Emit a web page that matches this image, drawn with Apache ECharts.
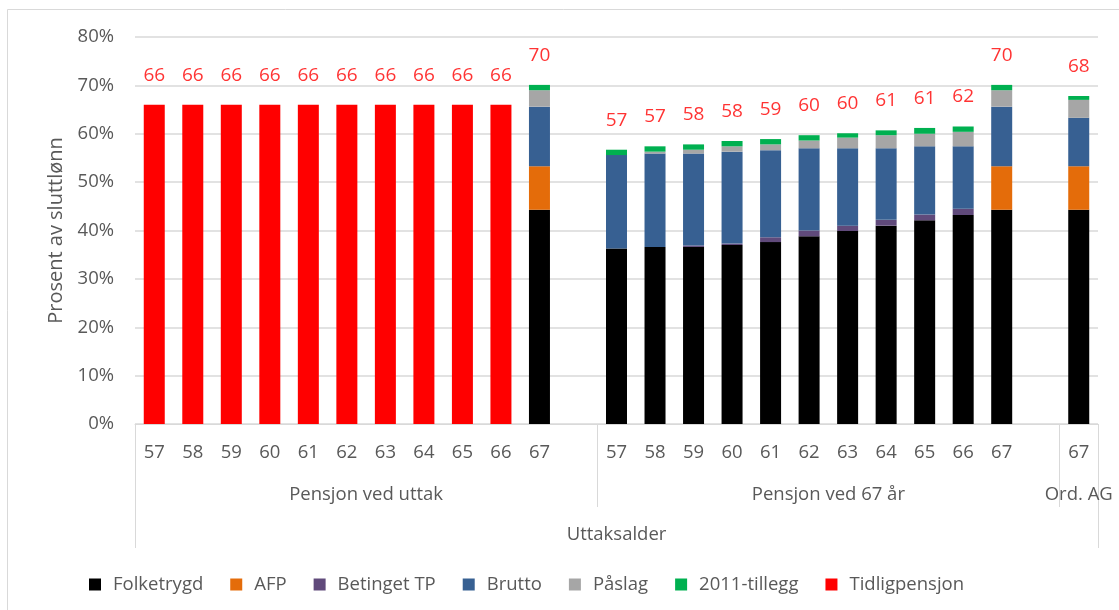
<!DOCTYPE html>
<html>
<head>
<meta charset="utf-8">
<script src="https://cdn.jsdelivr.net/npm/echarts@6/dist/echarts.min.js"></script>
<style>
  html, body { margin: 0; padding: 0; background: #fff; }
  #chart { width: 1119px; height: 610px; }
</style>
</head>
<body>
<div id="chart"></div>
<script>
// categories: two groups of 57-67 with a blank slot after each, then Ord. AG
const ages = ['57', '58', '59', '60', '61', '62', '63', '64', '65', '66', '67', '',
  '57', '58', '59', '60', '61', '62', '63', '64', '65', '66', '67', '', '67']
const groupLabels = ['Pensjon ved uttak', 'Pensjon ved 67 år', 'Ord. AG']
const groupSizes = [12, 12, 1]
const axisTitle = 'Uttaksalder'

const folketrygd = [0, 0, 0, 0, 0, 0, 0, 0, 0, 0, 44.3, '-',
  36.3, 36.6, 36.6, 37.0, 37.6, 38.8, 39.9, 41.0, 42.1, 43.2, 44.3, '-', 44.3]
const afp = [0, 0, 0, 0, 0, 0, 0, 0, 0, 0, 9.0, '-',
  0, 0, 0, 0, 0, 0, 0, 0, 0, 0, 9.0, '-', 9.0]
const betingetTP = [0, 0, 0, 0, 0, 0, 0, 0, 0, 0, 0, '-',
  0, 0, 0.3, 0.3, 1.0, 1.2, 1.1, 1.2, 1.2, 1.3, 0, '-', 0]
const brutto = [0, 0, 0, 0, 0, 0, 0, 0, 0, 0, 12.3, '-',
  19.3, 19.3, 19.0, 19.0, 18.0, 17.0, 16.0, 14.8, 14.1, 12.9, 12.3, '-', 10.0]
const paslag = [0, 0, 0, 0, 0, 0, 0, 0, 0, 0, 3.4, '-',
  0, 0.4, 0.8, 1.1, 1.2, 1.6, 2.2, 2.7, 2.6, 3.0, 3.4, '-', 3.7]
const tillegg2011 = [0, 0, 0, 0, 0, 0, 0, 0, 0, 0, 1.1, '-',
  1.1, 1.1, 1.1, 1.1, 1.1, 1.1, 0.9, 1.0, 1.2, 1.1, 1.1, '-', 0.8]
const tidligpensjon = [66, 66, 66, 66, 66, 66, 66, 66, 66, 66, 0, '-',
  0, 0, 0, 0, 0, 0, 0, 0, 0, 0, 0, '-', 0]
// total labels as printed above the bars
const totals = [66, 66, 66, 66, 66, 66, 66, 66, 66, 66, 70, '',
  57, 57, 58, 58, 59, 60, 60, 61, 61, 62, 70, '', 68]

const yTicks = [0, 10, 20, 30, 40, 50, 60, 70, 80]

const FONT = 'Open Sans'
const FS = 18.5
const TXT = '#595959'
const LINE = '#D9D9D9'

const parts = [
  { name: 'Folketrygd', data: folketrygd, color: '#000000' },
  { name: 'AFP', data: afp, color: '#E46C0A' },
  { name: 'Betinget TP', data: betingetTP, color: '#604A7B' },
  { name: 'Brutto', data: brutto, color: '#376092' },
  { name: 'Påslag', data: paslag, color: '#A6A6A6' },
  { name: '2011-tillegg', data: tillegg2011, color: '#00B050' },
  { name: 'Tidligpensjon', data: tidligpensjon, color: '#FF0000' }
]

// half-slot positions for the group level of the axis
const level2 = []
const level3 = []
const boundaries = []
let start = 0
for (let k = 0; k <= ages.length * 2; k++) { level2.push(''); level3.push('') }
groupLabels.forEach((g, i) => {
  boundaries.push(start * 2)
  level2[start * 2 + groupSizes[i]] = g
  start += groupSizes[i]
})
level3[ages.length] = axisTitle

const sums = ages.map((a, i) => {
  if (a === '') return '-'
  let s = 0
  parts.forEach(p => { s += +p.data[i] || 0 })
  return s
})

const chart = echarts.init(document.getElementById('chart'))

const series = parts.map(p => ({
  name: p.name,
  type: 'bar',
  stack: 'total',
  barWidth: 21,
  data: p.data,
  itemStyle: { color: p.color },
  emphasis: { disabled: true }
}))
series.push({
  name: 'sum',
  type: 'scatter',
  symbolSize: 0,
  data: sums,
  silent: true,
  label: {
    show: true,
    position: 'top',
    distance: 20,
    color: '#FF0000',
    fontFamily: FONT,
    fontSize: 19,
    formatter: p => totals[p.dataIndex]
  }
})

const option = {
  animation: false,
  backgroundColor: '#fff',
  textStyle: { fontFamily: FONT },
  graphic: [{
    type: 'rect',
    shape: { x: 7.5, y: 9.5, width: 1200, height: 700 },
    style: { fill: 'none', stroke: LINE, lineWidth: 1 },
    silent: true
  }],
  grid: { left: 135, right: 21, top: 37, bottom: 186 },
  legend: {
    data: parts.map(p => p.name),
    left: 84,
    top: 570,
    icon: 'rect',
    itemWidth: 12,
    itemHeight: 12,
    itemGap: 27,
    textStyle: { color: TXT, fontSize: FS, fontFamily: FONT, padding: [0, 0, 0, 7] }
  },
  xAxis: [
    {
      type: 'category',
      data: ages,
      axisLine: { lineStyle: { color: LINE } },
      axisTick: { show: false },
      axisLabel: { interval: 0, margin: 19, color: TXT, fontSize: FS, fontFamily: FONT }
    },
    {
      type: 'category',
      data: level2,
      boundaryGap: false,
      position: 'bottom',
      axisLine: { show: false },
      axisTick: {
        show: true,
        length: 83,
        interval: (k) => k === boundaries[1] || k === boundaries[2],
        lineStyle: { color: LINE }
      },
      axisLabel: {
        interval: (k, v) => v !== '',
        margin: 61,
        color: TXT,
        fontSize: FS,
        fontFamily: FONT
      }
    },
    {
      type: 'category',
      data: level3,
      boundaryGap: false,
      position: 'bottom',
      axisLine: { show: false },
      axisTick: {
        show: true,
        length: 124,
        interval: (k) => k === 0 || k === level3.length - 1,
        lineStyle: { color: LINE }
      },
      axisLabel: {
        interval: (k, v) => v !== '',
        margin: 101,
        color: TXT,
        fontSize: FS,
        fontFamily: FONT
      }
    }
  ],
  yAxis: {
    type: 'value',
    min: yTicks[0],
    max: yTicks[yTicks.length - 1],
    interval: 10,
    name: 'Prosent av sluttlønn',
    nameLocation: 'middle',
    nameGap: 68,
    nameTextStyle: { color: TXT, fontSize: 20, fontFamily: FONT },
    axisLine: { show: false },
    axisTick: { show: false },
    axisLabel: { formatter: '{value}%', margin: 21, color: TXT, fontSize: FS, fontFamily: FONT },
    splitLine: { lineStyle: { color: LINE, width: 1.5 } }
  },
  series: series
}

chart.setOption(option)
</script>
</body>
</html>
